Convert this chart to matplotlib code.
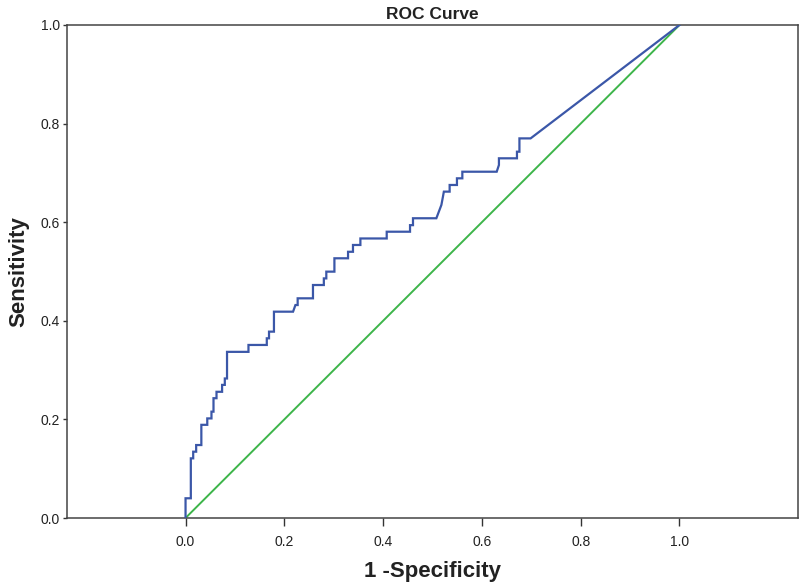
import matplotlib
matplotlib.use("Agg")
import matplotlib.pyplot as plt

plt.rcParams['font.family'] = ['Liberation Sans', 'DejaVu Sans']

# ROC curve vertices (1 - specificity, sensitivity)
fpr = [0.0, 0.0, 0.0107, 0.0107, 0.0155, 0.0155, 0.0215, 0.0215, 0.032, 0.032,
       0.044, 0.044, 0.0525, 0.0525, 0.0566, 0.0566, 0.0627, 0.0627, 0.074, 0.074,
       0.0795, 0.0795, 0.084, 0.084, 0.1274, 0.1274, 0.1645, 0.1645, 0.169, 0.169,
       0.179, 0.179, 0.2177, 0.2225, 0.227, 0.227, 0.258, 0.258, 0.28, 0.28,
       0.285, 0.285, 0.3014, 0.3014, 0.329, 0.329, 0.339, 0.339, 0.354, 0.354,
       0.4073, 0.4073, 0.4545, 0.4545, 0.4605, 0.4605, 0.5078, 0.518, 0.5212, 0.523,
       0.5347, 0.5347, 0.5495, 0.5495, 0.5604, 0.5604, 0.630, 0.6345, 0.6345, 0.671,
       0.671, 0.676, 0.676, 0.6986, 1.0]
tpr = [0.0, 0.04, 0.04, 0.121, 0.121, 0.1345, 0.1345, 0.148, 0.148, 0.189,
       0.189, 0.202, 0.202, 0.2157, 0.2157, 0.243, 0.243, 0.256, 0.256, 0.27,
       0.27, 0.283, 0.283, 0.337, 0.337, 0.351, 0.351, 0.3645, 0.3645, 0.378,
       0.378, 0.4185, 0.4185, 0.432, 0.432, 0.4456, 0.4456, 0.4726, 0.4726, 0.486,
       0.486, 0.4997, 0.4997, 0.5268, 0.5268, 0.540, 0.540, 0.5538, 0.5538, 0.567,
       0.567, 0.5807, 0.5807, 0.594, 0.594, 0.608, 0.608, 0.635, 0.652, 0.662,
       0.662, 0.6755, 0.6755, 0.689, 0.689, 0.7024, 0.7024, 0.716, 0.7296, 0.7296,
       0.743, 0.743, 0.770, 0.770, 1.0]

ref_x = [0.0, 1.0]
ref_y = [0.0, 1.0]
ticks = [0.0, 0.2, 0.4, 0.6, 0.8, 1.0]
tick_labels = ['0.0', '0.2', '0.4', '0.6', '0.8', '1.0']

fig = plt.figure(figsize=(8.0, 5.87), dpi=100)
ax = fig.add_axes([67/800, 69/587, 731/800, 493/587])

ax.plot(ref_x, ref_y, color='#3db54a', lw=1.4, zorder=2)
ax.plot(fpr, tpr, color='#3b57a8', lw=1.6, zorder=3, solid_joinstyle='miter')

ax.set_xlim(-0.24, 1.24)
ax.set_ylim(0.0, 1.0)
ax.set_xticks(ticks)
ax.set_xticklabels(tick_labels)
ax.set_yticks(ticks)
ax.set_yticklabels(tick_labels)
ax.tick_params(axis='both', direction='out', length=4, width=1.0, color='#333333',
               labelsize=10, labelcolor='#222222')
ax.tick_params(axis='x', length=6, pad=6)
ax.tick_params(axis='y', length=3, pad=2)
for s in ax.spines.values():
    s.set_color('#444444')
    s.set_linewidth(1.1)

ax.set_title('ROC Curve', fontsize=12.5, fontweight='bold', color='#222222', pad=4)
ax.set_xlabel('1 -Specificity', fontsize=16, fontweight='bold', color='#222222', labelpad=9)
ax.set_ylabel('Sensitivity', fontsize=16, fontweight='bold', color='#222222', labelpad=8)

fig.savefig('out.png', dpi=100)
